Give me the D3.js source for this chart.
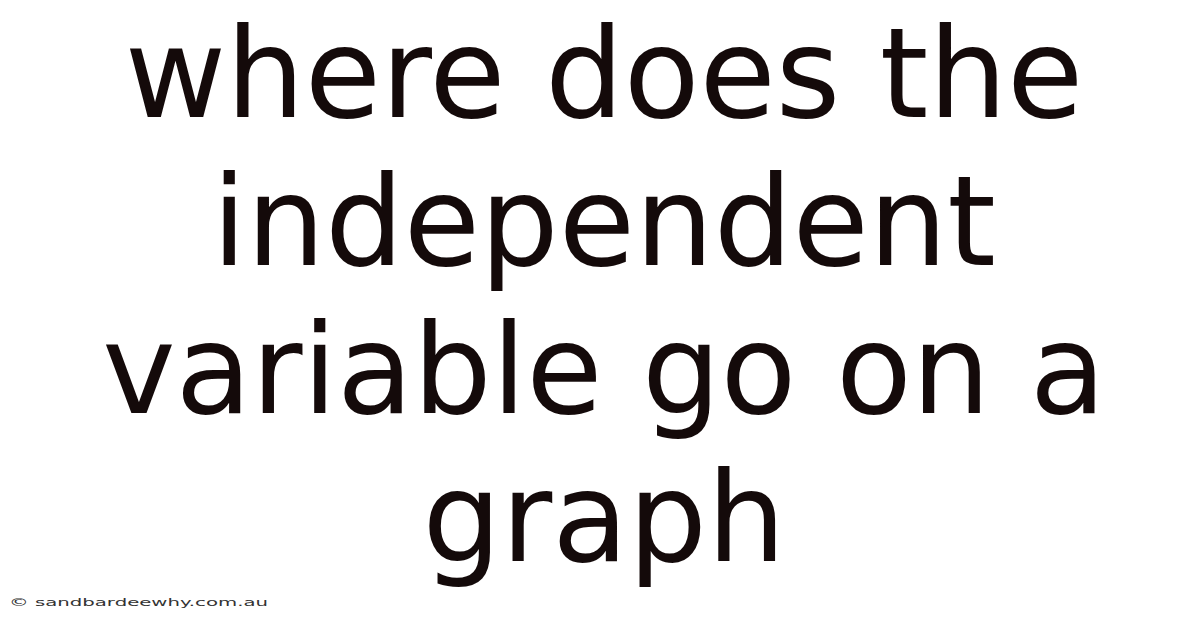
<!DOCTYPE html>
<html>
<head>
<meta charset="utf-8">
<script src="https://cdn.jsdelivr.net/npm/d3@7"></script>
<style>
	html, body { margin: 0; padding: 0; background: #fff; }
	svg { display: block; }
</style>
</head>
<body>
<script>
// title lines, top to bottom
const titleLines = ['where does the', 'independent', 'variable go on a', 'graph']
const watermark = '© sandbardeewhy.com.au'

const width = 1200
const height = 628

const svg = d3.select('body').append('svg')
	.attr('width', width)
	.attr('height', height)

// one baseline per line, evenly spaced
const y = d3.scalePoint()
	.domain(d3.range(titleLines.length))
	.range([117, 561])

svg.append('g')
	.selectAll('text')
	.data(titleLines)
	.join('text')
	.attr('x', 604)
	.attr('y', (d, i) => y(i))
	.attr('text-anchor', 'middle')
	.attr('font-family', 'DejaVu Sans')
	.attr('font-size', 124)
	.attr('fill', '#140a0a')
	.text(d => d)

svg.append('text')
	.attr('x', 9)
	.attr('y', 606)
	.attr('font-family', 'DejaVu Sans')
	.attr('font-size', 11)
	.attr('fill', '#333')
	.attr('textLength', 259)
	.attr('lengthAdjust', 'spacingAndGlyphs')
	.text(watermark)
</script>
</body>
</html>
